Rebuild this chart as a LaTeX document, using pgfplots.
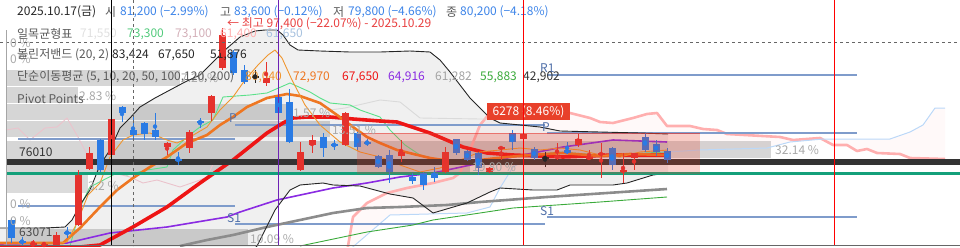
\documentclass[border=0pt]{standalone}
\usepackage{pgfplots}
\usepackage{pgfplotstable}
\pgfplotsset{compat=1.18}
\usepgfplotslibrary{fillbetween}
\usepackage{fontspec}
\setmainfont{Noto Sans CJK KR}
\definecolor{cup}{HTML}{E5322D}
\definecolor{cdn}{HTML}{2A7BE4}
\definecolor{pivot}{HTML}{7F9CCB}
\definecolor{pivtxt}{HTML}{4F6FA8}
\definecolor{ma5}{HTML}{F0962E}
\definecolor{ma10}{HTML}{EE7722}
\definecolor{ma20}{HTML}{EE1515}
\definecolor{ma50}{HTML}{8A2BE2}
\definecolor{ma100}{HTML}{8C8C8C}
\definecolor{ma200}{HTML}{3BAA3B}
\definecolor{conv}{HTML}{5BE08A}
\definecolor{spanA}{HTML}{FFAFAF}
\definecolor{spanB}{HTML}{BBD8F8}
\definecolor{lag}{HTML}{EBC3CC}
\definecolor{base}{HTML}{DADADA}
\definecolor{hblue}{HTML}{3D84E8}
\definecolor{lbl}{HTML}{5A5A5A}
\definecolor{pct}{HTML}{A8A8A8}
\definecolor{hired}{HTML}{E84040}
\definecolor{darkband}{HTML}{333333}
\definecolor{greenband}{HTML}{14A07A}
\definecolor{boxred}{HTML}{E8402A}

% candles in chart pixel units: x, body top, body bottom, wick top, wick bottom
\pgfplotstableread{
x bt bb wt wb
33 243 246 240 246
44 244 246 242 246
56 235 246 232 246
78 175 225 170 226
89 153 169 147 170
111 119 155 118 156
167 143 147 142 155
189 132 148 130 153
211 96 113 95 121
222 35 68 28 70
266 78 83 62 86
300 152 170 142 171
312 140 145 135 153
345 113 145 112 146
401 152 156 140 162
445 152 172 147 173
489 168 172 167 173
501 147 149 147 160
523 134 139 133 140
557 156 158 143 160
578 139 145 134 147
589 157 159 150 160
601 153 155 143 178
623 170 172 153 183
634 153 158 153 170
}\upcandles
\pgfplotstableread{
x bt bb wt wb
11 220 238 218 243
22 241 243 237 246
67 232 234 227 238
100 140 170 139 172
122 107 113 106 122
133 130 135 117 140
144 123 134 122 140
155 130 137 113 140
178 159 161 152 165
200 121 123 118 128
233 52 73 50 75
244 70 82 65 84
278 97 113 96 114
289 102 142 89 143
323 137 148 133 157
334 144 146 140 150
357 133 147 132 150
367 142 144 139 146
378 156 167 155 168
389 155 172 150 183
412 177 181 173 184
423 173 185 172 190
434 173 178 167 182
456 139 153 139 155
467 151 160 150 161
478 153 168 152 175
512 133 142 130 150
534 149 158 147 160
567 150 153 142 154
612 148 165 147 170
645 137 150 133 152
656 144 152 140 156
667 151 160 148 163
}\dncandles
\pgfplotstableread{
x bt bb wt wb
255 76 78 70 83
545 157 159 152 167
}\dojis

\begin{document}
\begin{tikzpicture}
\begin{axis}[
  width=960pt, height=246pt, scale only axis,
  xmin=0, xmax=960, ymin=0, ymax=246, y dir=reverse,
  hide axis, clip=true,
  every axis plot/.append style={line join=round, mark=none},
  candle/.style n args={2}{only marks, mark=none, forget plot, color=#2,
     error bars/y dir=both, error bars/y explicit, error bars/error mark=none,
     error bars/error bar style={line width=#1, draw=#2}},
]
% ---------- Bollinger band fill ----------
\addplot[name path=bbU, draw=none, forget plot] coordinates {
(0,228)(20,228)(45,228)(65,227)(72,220)(80,205)(90,190)(100,165)(110,150)(120,128)(130,118)(140,107)(155,98)(170,90)(185,82)(200,75)(215,60)(225,50)(240,37)(255,31)(265,30)(277,30)(283,35)(290,45)(298,50)(320,51)(350,52)(380,52)(410,51)(430,52)(440,60)(450,72)(460,85)(470,98)(480,108)(490,118)(500,123)(520,125)(540,127)(560,131)(600,132)(640,133)(668,134)};
\addplot[name path=bbL, draw=none, forget plot] coordinates {
(0,262)(240,262)(257,246)(265,230)(275,210)(290,190)(300,185)(323,183)(333,185)(360,186)(375,190)(390,194)(413,198)(433,213)(450,208)(467,203)(490,192)(500,188)(533,190)(557,190)(570,185)(613,185)(627,183)(653,175)(668,173)};
\addplot[fill=black, fill opacity=0.06, draw=none, forget plot] fill between[of=bbU and bbL];

% ---------- volume profile rows ----------
\addplot[fill=black, fill opacity=0.16, draw=none] coordinates {(6,70)(180,70)(180,86)(6,86)} -- cycle;
\addplot[fill=black, fill opacity=0.16, draw=none] coordinates {(6,87)(78,87)(78,103)(6,103)} -- cycle;
\addplot[fill=black, fill opacity=0.16, draw=none] coordinates {(6,104)(293,104)(293,120)(6,120)} -- cycle;
\addplot[fill=black, fill opacity=0.16, draw=none] coordinates {(6,121)(330,121)(330,137)(6,137)} -- cycle;
\addplot[fill=black, fill opacity=0.16, draw=none] coordinates {(6,141)(771,141)(771,158)(6,158)} -- cycle;
\addplot[fill=black, fill opacity=0.16, draw=none] coordinates {(6,158)(470,158)(470,175)(6,175)} -- cycle;
\addplot[fill=black, fill opacity=0.14, draw=none] coordinates {(6,175)(88,175)(88,193)(6,193)} -- cycle;
\addplot[fill=black, fill opacity=0.16, draw=none] coordinates {(6,229)(248,229)(248,246)(6,246)} -- cycle;

% ---------- Ichimoku ----------
\addplot[name path=spA, draw=spanA, line width=2.6pt] coordinates {
(347,252)(353,217)(367,203)(387,193)(407,188)(433,183)(453,178)(460,173)(470,150)(480,125)(490,113)(500,110)(520,110)(545,112)(560,113)(570,113)(590,118)(600,122)(613,123)(633,118)(647,114)(657,113)(667,126)(690,126)(703,129)(717,130)(727,134)(780,137)(793,140)(820,138)(833,145)(847,145)(857,151)(867,149)(877,153)(900,154)(910,158)(945,159)};
\addplot[name path=spB, draw=spanB, line width=1pt] coordinates {
(347,252)(390,215)(467,213)(490,207)(500,188)(513,167)(525,160)(560,157)(600,155)(667,152)(700,150)(767,148)(790,142)(823,139)(890,139)(910,132)(923,125)(935,108)(945,108)};
\addplot[fill=spanA, fill opacity=0.07, draw=none, forget plot] fill between[of=spA and spB];
\addplot[draw=base, line width=0.9pt] coordinates {(330,110)(345,108)(367,103)(380,100)(400,102)(420,118)(480,119)(500,119)};
\addplot[draw=lag, line width=0.9pt] coordinates {(6,130)(18,128)(30,140)(45,128)(57,127)(67,118)(78,137)(90,160)(110,172)(130,177)(143,183)(157,180)(180,187)(200,180)(207,177)(215,160)};
\addplot[draw=conv, line width=0.9pt] coordinates {(70,246)(82,203)(90,187)(117,173)(127,175)(147,170)(167,167)(173,150)(187,137)(200,127)(213,120)(223,97)(250,95)(267,93)(290,83)(310,92)(320,98)(330,103)(350,105)(360,110)(380,117)(390,130)(405,145)(420,155)(440,160)(470,160)(500,158)(560,152)(600,155)(667,152)};

% ---------- pivot points ----------
\addplot[draw=pivot, line width=1.8pt] coordinates {(18,139)(235,139)};
\addplot[draw=pivot, line width=1.8pt] coordinates {(18,206)(235,206)};
\addplot[draw=pivot, line width=1.8pt] coordinates {(235,125)(545,125)};
\addplot[draw=pivot, line width=1.8pt] coordinates {(235,224)(545,224)};
\addplot[draw=pivot, line width=1.8pt] coordinates {(547,75)(857,75)};
\addplot[draw=pivot, line width=1.8pt] coordinates {(547,133)(857,133)};
\addplot[draw=pivot, line width=1.8pt] coordinates {(547,217)(857,217)};

% ---------- moving averages ----------
\addplot[draw=ma200, line width=0.9pt] coordinates {(300,246)(367,232)(413,225)(433,220)(480,213)(513,208)(600,202)(667,197)};
\addplot[draw=ma100, line width=2.6pt] coordinates {(180,246)(207,240)(233,235)(267,227)(300,220)(333,213)(367,208)(400,207)(447,205)(480,202)(547,197)(667,189)};
\addplot[draw=ma50, line width=1.6pt] coordinates {(0,244)(67,243)(110,233)(167,227)(227,217)(240,212)(277,200)(333,188)(367,183)(400,177)(433,173)(480,163)(513,157)(563,147)(613,140)(667,142)};
\addplot[draw=ma20, line width=3.6pt] coordinates {(0,247)(80,247)(100,245)(133,227)(167,207)(200,183)(233,160)(267,133)(283,123)(293,118)(307,117)(330,117)(353,119)(380,121)(397,122)(430,133)(463,147)(487,153)(513,155)(563,157)(613,155)(667,155)};
\addplot[draw=ma10, line width=2.6pt] coordinates {(0,243)(63,243)(80,228)(100,207)(117,190)(133,178)(150,167)(167,157)(187,143)(207,135)(220,125)(233,117)(247,107)(267,98)(287,94)(300,96)(320,103)(337,115)(353,127)(367,137)(380,143)(397,150)(430,158)(463,163)(480,160)(497,158)(530,155)(563,153)(600,156)(630,154)(667,155)};
\addplot[draw=ma5, line width=0.9pt] coordinates {(18,243)(60,243)(67,242)(77,223)(88,195)(100,183)(110,157)(123,140)(133,135)(150,133)(167,140)(177,143)(190,137)(207,127)(220,110)(233,97)(245,80)(258,65)(268,55)(275,50)(282,58)(292,80)(305,105)(320,125)(340,142)(360,152)(380,157)(400,165)(420,172)(440,168)(460,160)(480,152)(500,150)(520,148)(540,150)(560,148)(580,150)(600,155)(620,157)(640,152)(668,150)};
\addplot[draw=black!85, line width=0.9pt] coordinates {
(0,228)(20,228)(45,228)(65,227)(72,220)(80,205)(90,190)(100,165)(110,150)(120,128)(130,118)(140,107)(155,98)(170,90)(185,82)(200,75)(215,60)(225,50)(240,37)(255,31)(265,30)(277,30)(283,35)(290,45)(298,50)(320,51)(350,52)(380,52)(410,51)(430,52)(440,60)(450,72)(460,85)(470,98)(480,108)(490,118)(500,123)(520,125)(540,127)(560,131)(600,132)(640,133)(668,134)};
\addplot[draw=black!85, line width=0.9pt] coordinates {
(240,262)(257,246)(265,230)(275,210)(290,190)(300,185)(323,183)(333,185)(360,186)(375,190)(390,194)(413,198)(433,213)(450,208)(467,203)(490,192)(500,188)(533,190)(557,190)(570,185)(613,185)(627,183)(653,175)(668,173)};

% ---------- price levels ----------
\addplot[draw=darkband, line width=6.5pt] coordinates {(6,162)(960,162)};
\addplot[draw=greenband, line width=3.5pt] coordinates {(6,173.5)(960,173.5)};

% ---------- candles ----------
\addplot[candle={1pt}{cup}] table[x=x, y expr=(\thisrow{wt}+\thisrow{wb})/2, y error expr=(\thisrow{wb}-\thisrow{wt})/2] {\upcandles};
\addplot[candle={7pt}{cup}] table[x=x, y expr=(\thisrow{bt}+\thisrow{bb})/2, y error expr=(\thisrow{bb}-\thisrow{bt})/2] {\upcandles};
\addplot[candle={1pt}{cdn}] table[x=x, y expr=(\thisrow{wt}+\thisrow{wb})/2, y error expr=(\thisrow{wb}-\thisrow{wt})/2] {\dncandles};
\addplot[candle={7pt}{cdn}] table[x=x, y expr=(\thisrow{bt}+\thisrow{bb})/2, y error expr=(\thisrow{bb}-\thisrow{bt})/2] {\dncandles};
\addplot[candle={1pt}{black!85}] table[x=x, y expr=(\thisrow{wt}+\thisrow{wb})/2, y error expr=(\thisrow{wb}-\thisrow{wt})/2] {\dojis};
\addplot[candle={7pt}{black!85}] table[x=x, y expr=(\thisrow{bt}+\thisrow{bb})/2, y error expr=(\thisrow{bb}-\thisrow{bt})/2] {\dojis};

% ---------- highlighted range ----------
\addplot[fill=boxred, fill opacity=0.24, draw=none] coordinates {(357,133)(700,133)(700,174)(357,174)} -- cycle;
\addplot[draw=cup, opacity=0.55, line width=1pt] coordinates {(357,133)(700,133)};

% ---------- texts ----------
\begin{scope}[every node/.style={inner sep=0pt, anchor=west, font=\fontsize{12}{14}\selectfont}]
\node[text=pct] at (axis cs:10,43) {0 \%};
\node[text=pct] at (axis cs:10,59) {0 \%};
\node[text=pct] at (axis cs:181,78) {7.20 \%};
\node[text=pct] at (axis cs:79,96) {2.83 \%};
\node[text=pct] at (axis cs:293,113) {1.57 \%};
\node[text=pct] at (axis cs:332,130) {13.51 \%};
\node[text=pct] at (axis cs:775,150) {32.14 \%};
\node[text=pct] at (axis cs:472,167) {19.80 \%};
\node[text=pct] at (axis cs:88,186) {3.2 \%};
\node[text=pct] at (axis cs:10,204) {0 \%};
\node[text=pct] at (axis cs:10,221) {0 \%};
\node[text=pct] at (axis cs:250,239) {10.09 \%};

\node[text=black!80] at (axis cs:19,152) {76010};
\node[text=black!70] at (axis cs:19,232) {63071};

\node[text=pivtxt] at (axis cs:229,118) {P};
\node[text=pivtxt] at (axis cs:227,218) {S1};
\node[text=pivtxt] at (axis cs:540,68) {R1};
\node[text=pivtxt] at (axis cs:542,127) {P};
\node[text=pivtxt] at (axis cs:540,211) {S1};

\node[text=black!85] at (axis cs:17,12) {2025.10.17(금)};
\node[text=lbl] at (axis cs:105,12) {시};
\node[text=hblue] at (axis cs:120,12) {81,200 (−2.99\%)};
\node[text=lbl] at (axis cs:220,12) {고};
\node[text=hblue] at (axis cs:234,12) {83,600 (−0.12\%)};
\node[text=lbl] at (axis cs:333,12) {저};
\node[text=hblue] at (axis cs:348,12) {79,800 (−4.66\%)};
\node[text=lbl] at (axis cs:446,12) {종};
\node[text=hblue] at (axis cs:460,12) {80,200 (−4.18\%)};

\node[text=hired] at (axis cs:227,24) {← 최고 97,400 (−22.07\%) - 2025.10.29};

\node[text=lbl] at (axis cs:17,34) {일목균형표};
\node[text=black!12] at (axis cs:80,34) {71,550};
\node[text=conv!90!black] at (axis cs:127,34) {73,300};
\node[text=lag!90!black] at (axis cs:175,34) {73,100};
\node[text=spanA] at (axis cs:220,34) {61,400};
\node[text=spanB!90!black] at (axis cs:266,34) {61,650};

\node[text=lbl] at (axis cs:17,55) {볼린저밴드 (20, 2)};
\node[text=black!85] at (axis cs:112,55) {83,424};
\node[text=black!85] at (axis cs:158,55) {67,650};
\node[text=black!85] at (axis cs:210,55) {51,876};

\node[text=lbl] at (axis cs:17,77) {단순이동평균 (5, 10, 20, 50, 100,120, 200)};
\node[text=ma5] at (axis cs:245,77) {80,040};
\node[text=ma10] at (axis cs:293,77) {72,970};
\node[text=ma20] at (axis cs:342,77) {67,650};
\node[text=ma50] at (axis cs:388,77) {64,916};
\node[text=ma100!80] at (axis cs:435,77) {61,282};
\node[text=ma200] at (axis cs:480,77) {55,883};
\node[text=black!80] at (axis cs:523,77) {42,902};

\node[text=lbl] at (axis cs:17,99) {Pivot Points};
\end{scope}
\node[fill=boxred, text=white, inner sep=0pt, minimum width=83pt, minimum height=17pt, font=\fontsize{12}{14}\selectfont] at (axis cs:528.5,111.5) {6278 (8.46\%)};

% ---------- cursor / markers ----------
\addplot[draw=black!60, dashed, line width=0.8pt] coordinates {(0,42)(960,42)};
\addplot[draw=black!60, dashed, line width=0.8pt] coordinates {(133,0)(133,246)};
\addplot[draw=black, line width=1pt] coordinates {(111,0)(111,246)};
\addplot[draw=ma50!80!black, line width=1pt] coordinates {(278,0)(278,246)};
\addplot[draw=red, line width=1pt] coordinates {(523,0)(523,246)};
\addplot[draw=red, line width=1pt] coordinates {(834,0)(834,246)};
\addplot[draw=black!35, line width=0.8pt] coordinates {(6,30)(6,246)};
\addplot[draw=black!60, line width=0.8pt] coordinates {(0,245)(960,245)};
\end{axis}
\end{tikzpicture}
\end{document}
